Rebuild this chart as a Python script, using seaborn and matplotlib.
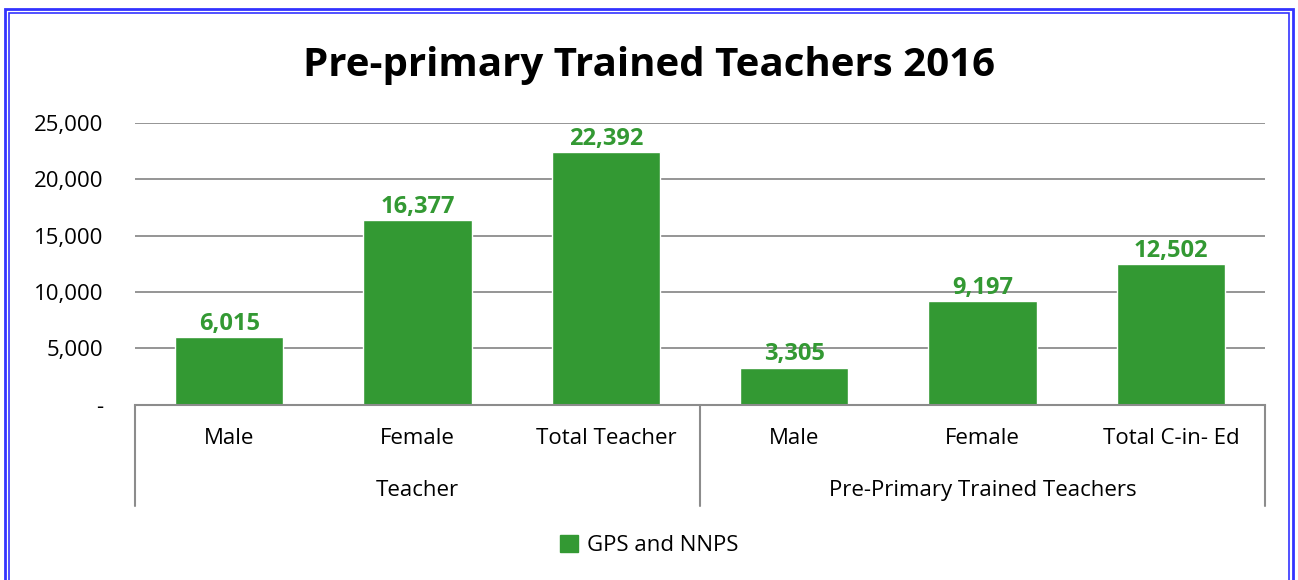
import pandas as pd
import matplotlib.pyplot as plt
import seaborn as sns
from matplotlib.patches import Rectangle, Patch
from matplotlib.ticker import FuncFormatter

# Data
groups = ['Teacher', 'Teacher', 'Teacher',
          'Pre-Primary Trained Teachers', 'Pre-Primary Trained Teachers', 'Pre-Primary Trained Teachers']
categories = ['Male', 'Female', 'Total Teacher', 'Male', 'Female', 'Total C-in- Ed']
values = [6015, 16377, 22392, 3305, 9197, 12502]
series_name = 'GPS and NNPS'

green = '#339933'
grey = '#8c8c8c'

df = pd.DataFrame({'group': groups, 'category': categories, 'value': values})
df['key'] = [f'{g}|{c}' for g, c in zip(groups, categories)]

sns.set_style('white')
plt.rcParams['font.family'] = ['Open Sans', 'DejaVu Sans']
plt.rcParams['text.color'] = 'black'
plt.rcParams['xtick.color'] = 'black'
plt.rcParams['ytick.color'] = 'black'

fig = plt.figure(figsize=(12.98, 5.8), dpi=100)
ax = fig.add_axes([0.104, 0.302, 0.8706, 0.486])

sns.barplot(data=df, x='key', y='value', order=list(df['key']), color=green,
            width=0.575, saturation=1, ax=ax)

ax.set_ylim(0, 25000)
ax.set_yticks(range(0, 25001, 5000))
ax.yaxis.set_major_formatter(FuncFormatter(lambda v, p: '-' if v == 0 else f'{int(v):,}'))
ax.grid(axis='y', color=grey, linewidth=1.3)
ax.set_axisbelow(True)
for s in ['left', 'right', 'top']:
    ax.spines[s].set_visible(False)
ax.spines['bottom'].set_color(grey)
ax.spines['bottom'].set_linewidth(1.5)
ax.tick_params(axis='y', length=0, pad=23, labelsize=16)
ax.tick_params(axis='x', length=0, pad=17, labelsize=16)
ax.set_xticks(range(len(categories)))
ax.set_xticklabels(categories)
ax.set_xlabel('')
ax.set_ylabel('')
ax.set_xlim(-0.5, len(categories) - 0.5)

# value labels
for i, v in enumerate(values):
    ax.text(i, v + 120, f'{v:,}', ha='center', va='bottom', color=green,
            fontsize=17, fontweight='bold')

# group separators and group labels
trans = ax.get_xaxis_transform()
for xline in [-0.5, 2.5, 5.5]:
    ax.plot([xline, xline], [0, -0.36], color=grey, linewidth=1.5,
            transform=trans, clip_on=False)
seen = []
for g in groups:
    if g not in seen:
        seen.append(g)
for gi, g in enumerate(seen):
    idx = [i for i, gg in enumerate(groups) if gg == g]
    ax.text(sum(idx) / len(idx), -0.305, g, ha='center', va='center',
            fontsize=16, transform=trans)

fig.suptitle('Pre-primary Trained Teachers 2016', y=0.92, fontsize=29,
             fontweight='bold', color='black')

fig.legend(handles=[Patch(color=green, label=series_name)], loc='center',
           bbox_to_anchor=(0.5, 0.06), frameon=False, fontsize=16,
           handlelength=0.8, handleheight=0.8, handletextpad=0.4)

# blue double border (open at the bottom, as in the cropped source)
fig.patches.append(Rectangle((0.0035, -0.05), 0.9925, 1.034, transform=fig.transFigure,
                             fill=False, edgecolor='#3333ff', linewidth=2))
fig.patches.append(Rectangle((0.0068, -0.05), 0.986, 1.028, transform=fig.transFigure,
                             fill=False, edgecolor='#3333ff', linewidth=1.2))

fig.savefig('out.png', dpi=100)
